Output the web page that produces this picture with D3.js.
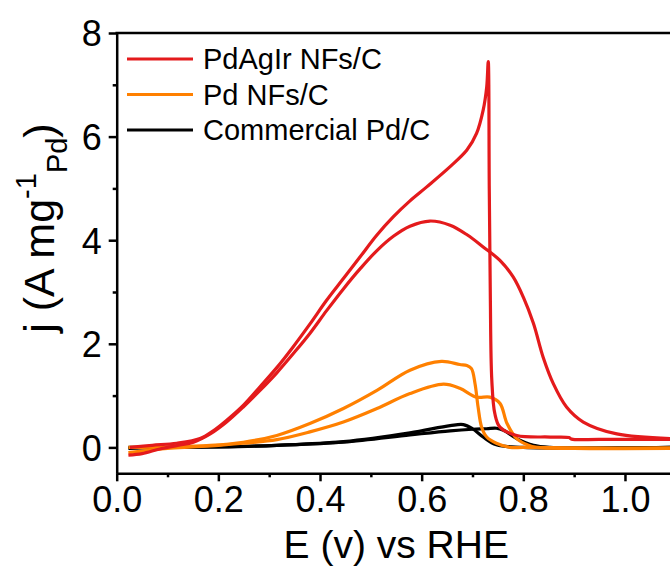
<!DOCTYPE html>
<html>
<head>
<meta charset="utf-8">
<script src="https://cdn.jsdelivr.net/npm/d3@7"></script>
<style>
  body { margin: 0; background: #fff; }
  svg { display: block; font-family: "Liberation Sans", Arial, sans-serif; }
</style>
</head>
<body>
<svg width="670" height="568"></svg>
<script>
// series: [E (V vs RHE), j (A mg-1 Pd)]
var pdAgIrFwd = [[0.023,-0.15],[0.05,-0.12],[0.085,-0.03],[0.12,0.04],[0.151,0.1],[0.184,0.26],[0.215,0.48],[0.249,0.78],[0.28,1.08],[0.315,1.44],[0.35,1.84],[0.38,2.2],[0.413,2.64],[0.446,3.06],[0.48,3.46],[0.512,3.8],[0.545,4.08],[0.577,4.27],[0.616,4.37],[0.656,4.29],[0.69,4.1],[0.721,3.87],[0.754,3.61],[0.78,3.29],[0.8,2.9],[0.82,2.39],[0.839,1.74],[0.859,1.23],[0.885,0.78],[0.918,0.49],[0.984,0.26],[1.09,0.17]];
var pdAgIrRev = [[1.09,0.155],[0.95,0.155],[0.895,0.16],[0.89,0.19],[0.853,0.2],[0.787,0.23],[0.754,0.39],[0.744,0.65],[0.738,1.3],[0.735,3.0],[0.733,5.0],[0.731,7.45],[0.728,6.96],[0.721,6.51],[0.708,6.06],[0.689,5.74],[0.656,5.42],[0.61,5.03],[0.577,4.76],[0.544,4.45],[0.512,4.1],[0.479,3.68],[0.446,3.26],[0.413,2.84],[0.38,2.38],[0.347,1.94],[0.315,1.54],[0.282,1.17],[0.25,0.82],[0.216,0.52],[0.19,0.32],[0.164,0.17],[0.118,0.08],[0.07,0.04],[0.026,0.0]];
var pdFwd = [[0.023,-0.1],[0.06,-0.06],[0.1,-0.02],[0.15,0.01],[0.2,0.04],[0.249,0.08],[0.315,0.15],[0.38,0.3],[0.446,0.49],[0.512,0.75],[0.577,1.04],[0.643,1.22],[0.675,1.14],[0.708,0.97],[0.734,0.97],[0.754,0.85],[0.768,0.46],[0.787,0.17],[0.81,0.04],[0.826,0.0],[0.9,-0.02],[1.09,-0.02]];
var pdRev = [[1.09,-0.01],[0.9,-0.01],[0.8,0.0],[0.774,0.0],[0.747,0.08],[0.728,0.2],[0.718,0.39],[0.711,0.78],[0.705,1.23],[0.698,1.52],[0.689,1.58],[0.675,1.6],[0.639,1.66],[0.577,1.49],[0.512,1.1],[0.446,0.75],[0.38,0.46],[0.315,0.23],[0.249,0.1],[0.184,0.04],[0.1,0.01],[0.023,0.0]];
var commFwd = [[0.023,0.0],[0.1,0.0],[0.2,0.01],[0.315,0.04],[0.446,0.1],[0.577,0.24],[0.656,0.32],[0.7,0.35],[0.728,0.36],[0.747,0.37],[0.761,0.33],[0.787,0.17],[0.82,0.04],[0.853,0.0],[1.09,0.0]];
var commRev = [[1.09,0.0],[0.8,0.0],[0.747,0.05],[0.721,0.2],[0.7,0.36],[0.682,0.44],[0.656,0.42],[0.577,0.28],[0.446,0.11],[0.315,0.04],[0.2,0.01],[0.1,0.0],[0.023,-0.02]];

var seriesNames = ["PdAgIr NFs/C", "Pd NFs/C", "Commercial Pd/C"];
var seriesColors = ["#e41a1c", "#ff8000", "#000000"];
var seriesScans = [[pdAgIrFwd, pdAgIrRev], [pdFwd, pdRev], [commFwd, commRev]];

var xTicks = [0, 0.2, 0.4, 0.6, 0.8, 1.0];
var xMinor = [0.1, 0.3, 0.5, 0.7, 0.9];
var yTicks = [0, 2, 4, 6, 8];
var yMinor = [1, 3, 5, 7];

var svg = d3.select("svg");
var plotLeft = 116.7, plotTop = 33, plotBottom = 473.3, plotRight = 675.8;

var x = d3.scaleLinear().domain([0, 1.1]).range([plotLeft, plotRight]);
var y = d3.scaleLinear().domain([-0.5, 8]).range([plotBottom, plotTop]);

var line = d3.line()
    .x(function(d) { return x(d[0]); })
    .y(function(d) { return y(d[1]); })
    .curve(d3.curveCatmullRom.alpha(0.5));

// curves, black drawn first so the coloured ones sit on top
[2, 1, 0].forEach(function(i) {
    seriesScans[i].forEach(function(scan) {
        svg.append("path")
            .datum(scan)
            .attr("fill", "none")
            .attr("stroke", seriesColors[i])
            .attr("stroke-width", 3.2)
            .attr("stroke-linejoin", "round")
            .attr("d", line);
    });
});

// axes
var xAxis = svg.append("g")
    .attr("transform", "translate(0," + plotBottom + ")")
    .call(d3.axisBottom(x).tickValues(xTicks).tickSize(8).tickSizeOuter(0).tickPadding(5)
        .tickFormat(d3.format(".1f")));
svg.append("g")
    .attr("transform", "translate(0," + plotBottom + ")")
    .call(d3.axisBottom(x).tickValues(xMinor).tickSize(4).tickFormat(""))
    .select(".domain").remove();

var yAxis = svg.append("g")
    .attr("transform", "translate(" + plotLeft + ",0)")
    .call(d3.axisLeft(y).tickValues(yTicks).tickSize(8).tickSizeOuter(0).tickPadding(7));
svg.append("g")
    .attr("transform", "translate(" + plotLeft + ",0)")
    .call(d3.axisLeft(y).tickValues(yMinor).tickSize(4).tickFormat(""))
    .select(".domain").remove();

svg.selectAll(".domain, .tick line").attr("stroke", "#000").attr("stroke-width", 2.5);
svg.selectAll(".tick text").attr("font-size", 36).attr("font-family", "Liberation Sans, Arial, sans-serif").attr("fill", "#000");
yAxis.selectAll(".tick text").attr("dy", "0.36em");

// top frame line
svg.append("line")
    .attr("x1", plotLeft - 1.25).attr("x2", plotRight)
    .attr("y1", plotTop).attr("y2", plotTop)
    .attr("stroke", "#000").attr("stroke-width", 2.5);

// axis titles
svg.append("text")
    .attr("x", (plotLeft + plotRight) / 2)
    .attr("y", 558)
    .attr("text-anchor", "middle")
    .attr("font-size", 39)
    .text("E (v) vs RHE");

var yt = svg.append("text")
    .attr("transform", "translate(54,228) rotate(-90)")
    .attr("text-anchor", "middle")
    .attr("font-size", 43);
yt.append("tspan").text("j (A mg");
yt.append("tspan").attr("font-size", 29).attr("dy", -18).text("-1");
yt.append("tspan").attr("font-size", 29).attr("dy", 31).text("Pd");
yt.append("tspan").attr("dy", -13).text(")");

// legend
var legend = svg.append("g");
seriesNames.forEach(function(name, i) {
    var ly = 59 + i * 35.5;
    legend.append("line")
        .attr("x1", 127).attr("x2", 193)
        .attr("y1", ly).attr("y2", ly)
        .attr("stroke", seriesColors[i])
        .attr("stroke-width", 3);
    legend.append("text")
        .attr("x", 203).attr("y", ly)
        .attr("dy", "0.36em")
        .attr("font-size", 29)
        .text(name);
});
</script>
</body>
</html>
